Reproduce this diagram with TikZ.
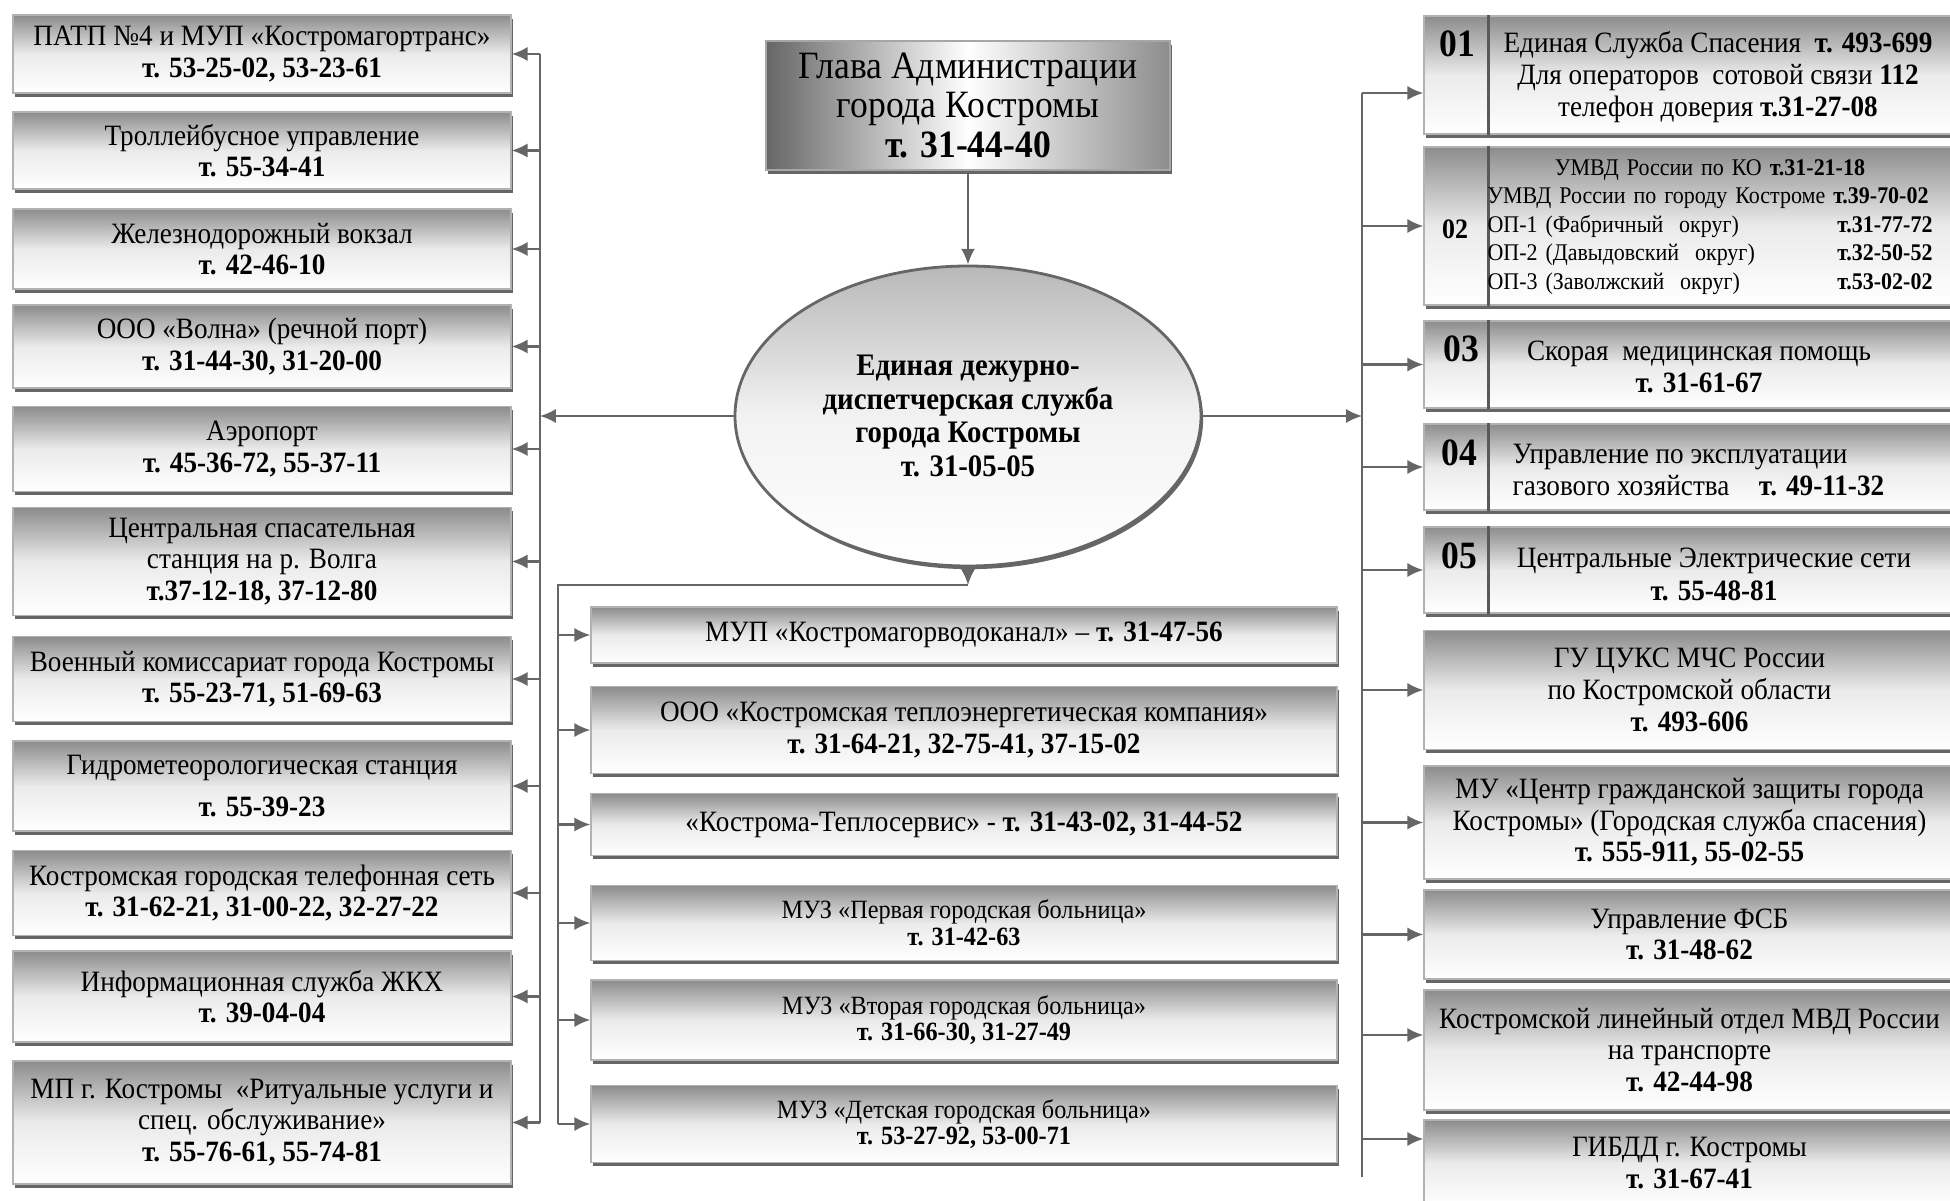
\documentclass[tikz,border=0pt]{standalone}
\usepackage{fontspec}
\setmainfont{Liberation Serif}[FakeStretch=0.92]
\usetikzlibrary{shadows,arrows.meta,shapes.geometric}

\begin{document}
\begin{tikzpicture}[x={(1cm,0cm)}, y={(0cm,1cm)},
  >={Latex[length=4.5pt,width=4pt]},
  link/.style={draw=black!60, line width=0.6pt},
  box/.style={draw=black!30, rectangle, align=center, inner sep=1pt,
    top color=black!45, bottom color=white, middle color=black!8,
    drop shadow={shadow xshift=0.7pt, shadow yshift=-1pt, fill=black!60, opacity=1},
    font=\fontsize{8.4}{9}\selectfont},
  leftbox/.style={box, minimum width=4.98cm},
  midbox/.style={box, minimum width=7.46cm},
  rightbox/.style={box, minimum width=5.31cm},
  headbox/.style={draw=black!35, rectangle, align=center,
    left color=black!60, right color=black!45, middle color=white,
    drop shadow={shadow xshift=0.7pt, shadow yshift=-1pt, fill=black!60, opacity=1},
    minimum width=4.04cm, minimum height=1.29cm,
    font=\fontsize{11}{11.2}\selectfont},
  hub/.style={ellipse, draw=black!60, line width=0.8pt, align=center, inner sep=0pt,
    top color=black!28, bottom color=white, middle color=black!5,
    drop shadow={shadow xshift=0.6pt, shadow yshift=-0.9pt, fill=black!60, opacity=1},
    minimum width=4.66cm, minimum height=3.0cm,
    font=\fontsize{8.9}{9.6}\selectfont\bfseries},
  rtext/.style={align=center, inner sep=0pt, font=\fontsize{8.4}{9.2}\selectfont},
  tinytext/.style={font=\fontsize{7.5}{7.6}\selectfont},
  numtext/.style={inner sep=0pt, font=\fontsize{11}{12}\selectfont\bfseries},
  divider/.style={draw=black!65, line width=0.9pt}]

  \useasboundingbox (0,0) rectangle (19.5,-12.01);

  % Nodes
  \node[headbox] (Head) at (9.68,-1.055) {Глава Администрации\\города Костромы\\\textbf{т. 31-44-40}};
  \node[hub] (Centre) at (9.68,-4.16) {Единая дежурно-\\диспетчерская служба\\города Костромы\\т. 31-05-05};

  \node[leftbox,minimum height=0.78cm] (L1) at (2.62,-0.54) {ПАТП №4 и МУП «Костромагортранс»\\\textbf{т. 53-25-02, 53-23-61}};
  \node[leftbox,minimum height=0.77cm] (L2) at (2.62,-1.505) {Троллейбусное управление\\\textbf{т. 55-34-41}};
  \node[leftbox,minimum height=0.80cm] (L3) at (2.62,-2.49) {Железнодорожный вокзал\\\textbf{т. 42-46-10}};
  \node[leftbox,minimum height=0.83cm] (L4) at (2.62,-3.465) {ООО «Волна» (речной порт)\\\textbf{т. 31-44-30, 31-20-00}};
  \node[leftbox,minimum height=0.85cm] (L5) at (2.62,-4.49) {Аэропорт\\\textbf{т. 45-36-72, 55-37-11}};
  \node[leftbox,minimum height=1.08cm] (L6) at (2.62,-5.615) {Центральная спасательная\\станция на р. Волга\\\textbf{т.37-12-18, 37-12-80}};
  \node[leftbox,minimum height=0.85cm] (L7) at (2.62,-6.79) {Военный комиссариат города Костромы\\\textbf{т. 55-23-71, 51-69-63}};
  \node[leftbox,minimum height=0.90cm] (L8) at (2.62,-7.86) {Гидрометеорологическая станция\\[3pt]\textbf{т. 55-39-23}};
  \node[leftbox,minimum height=0.85cm] (L9) at (2.62,-8.93) {Костромская городская телефонная сеть\\\textbf{т. 31-62-21, 31-00-22, 32-27-22}};
  \node[leftbox,minimum height=0.91cm] (L10) at (2.62,-9.965) {Информационная служба ЖКХ\\\textbf{т. 39-04-04}};
  \node[leftbox,minimum height=1.23cm] (L11) at (2.62,-11.225) {МП г. Костромы\ \ «Ритуальные услуги и\\спец. обслуживание»\\\textbf{т. 55-76-61, 55-74-81}};

  \node[midbox,minimum height=0.56cm] (M1) at (9.64,-6.35) {МУП «Костромагорводоканал» – \textbf{т. 31-47-56}};
  \node[midbox,minimum height=0.87cm] (M2) at (9.64,-7.30) {ООО «Костромская теплоэнергетическая компания»\\\textbf{т. 31-64-21, 32-75-41, 37-15-02}};
  \node[midbox,minimum height=0.62cm] (M3) at (9.64,-8.245) {«Кострома-Теплосервис» - \textbf{т. 31-43-02, 31-44-52}};
  \node[midbox,tinytext,minimum height=0.75cm] (M4) at (9.64,-9.23) {МУЗ «Первая городская больница»\\\textbf{т. 31-42-63}};
  \node[midbox,tinytext,minimum height=0.80cm] (M5) at (9.64,-10.20) {МУЗ «Вторая городская больница»\\\textbf{т. 31-66-30, 31-27-49}};
  \node[midbox,tinytext,minimum height=0.77cm] (M6) at (9.64,-11.24) {МУЗ «Детская городская больница»\\\textbf{т. 53-27-92, 53-00-71}};

  \node[rightbox,minimum height=1.18cm] (R1) at (16.895,-0.75) {};
  \node[rightbox,minimum height=1.58cm] (R2) at (16.895,-2.26) {};
  \node[rightbox,minimum height=0.87cm] (R3) at (16.895,-3.645) {};
  \node[rightbox,minimum height=0.86cm] (R4) at (16.895,-4.67) {};
  \node[rightbox,minimum height=0.86cm] (R5) at (16.895,-5.70) {};
  \node[rightbox,minimum height=1.19cm] (R6) at (16.895,-6.90) {ГУ ЦУКС МЧС России\\по Костромской области\\\textbf{т. 493-606}};
  \node[rightbox,minimum height=1.13cm] (R7) at (16.895,-8.225) {МУ «Центр гражданской защиты города\\Костромы» (Городская служба спасения)\\\textbf{т. 555-911, 55-02-55}};
  \node[rightbox,minimum height=0.89cm] (R8) at (16.895,-9.345) {Управление ФСБ\\\textbf{т. 31-48-62}};
  \node[rightbox,minimum height=1.20cm] (R9) at (16.895,-10.50) {Костромской линейный отдел МВД России\\на транспорте\\\textbf{т. 42-44-98}};
  \node[rightbox,minimum height=0.86cm] (R10) at (16.895,-11.63) {ГИБДД г. Костромы\\\textbf{т. 31-67-41}};

  % Number column
  \draw[divider] ([xshift=0.65cm]R1.north west) -- ([xshift=0.65cm]R1.south west);
  \draw[divider] ([xshift=0.65cm]R2.north west) -- ([xshift=0.65cm]R2.south west);
  \draw[divider] ([xshift=0.65cm]R3.north west) -- ([xshift=0.65cm]R3.south west);
  \draw[divider] ([xshift=0.65cm]R4.north west) -- ([xshift=0.65cm]R4.south west);
  \draw[divider] ([xshift=0.65cm]R5.north west) -- ([xshift=0.65cm]R5.south west);

  \node[numtext] (Num1) at (14.57,-0.44) {01};
  \node[numtext,font=\fontsize{8}{9}\selectfont\bfseries] (Num2) at (14.55,-2.29) {02};
  \node[numtext] (Num3) at (14.61,-3.49) {03};
  \node[numtext] (Num4) at (14.59,-4.53) {04};
  \node[numtext] (Num5) at (14.59,-5.56) {05};

  \node[rtext] (Text1) at (17.18,-0.77) {Единая Служба Спасения\ \ \textbf{т. 493-699}\\Для операторов\ \ сотовой связи \textbf{112}\\телефон доверия \textbf{т.31-27-08}};
  \node[rtext,font=\fontsize{6.8}{8.1}\selectfont,text width=4.45cm,align=left] (Text2) at (17.10,-2.27)
    {\makebox[\linewidth]{УМВД России по КО \textbf{т.31-21-18}}\\
     УМВД России по городу Костроме \textbf{т.39-70-02}\\
     ОП-1 (Фабричный\ \ округ)\hfill\textbf{т.31-77-72}\hspace*{0.2cm}\\
     ОП-2 (Давыдовский\ \ округ)\hfill\textbf{т.32-50-52}\\
     ОП-3 (Заволжский\ \ округ)\hfill\textbf{т.53-02-02}};
  \node[rtext] (Text3) at (16.99,-3.67) {Скорая\ \ медицинская помощь\\\textbf{т. 31-61-67}};
  \node[rtext,anchor=west,align=left] (Text4) at (15.12,-4.70) {Управление по эксплуатации\\газового хозяйства\quad\textbf{т. 49-11-32}};
  \node[rtext] (Text5) at (17.14,-5.745) {Центральные Электрические сети\\\textbf{т. 55-48-81}};

  % Buses
  \coordinate (LeftBus) at (5.40,0);
  \coordinate (MidBus) at (5.58,-5.85);
  \coordinate (RightBus) at (13.62,0);

  % Edges
  \draw[link,->] (Head.south) -- (Centre.north);
  \draw[link,->] (Centre.west) -- (LeftBus |- Centre.west);
  \draw[link,->] (Centre.east) -- (RightBus |- Centre.east);
  \draw[link,->] (Centre.south) -- (Centre.south |- MidBus);
  \draw[link] (Centre.south |- MidBus) -- (MidBus) -- (MidBus |- M6.west);

  \draw[link] (LeftBus |- L1.east) -- (LeftBus |- L11.east);
  \draw[link,<-] (L1.east) -- (LeftBus |- L1.east);
  \draw[link,<-] (L2.east) -- (LeftBus |- L2.east);
  \draw[link,<-] (L3.east) -- (LeftBus |- L3.east);
  \draw[link,<-] (L4.east) -- (LeftBus |- L4.east);
  \draw[link,<-] (L5.east) -- (LeftBus |- L5.east);
  \draw[link,<-] (L6.east) -- (LeftBus |- L6.east);
  \draw[link,<-] (L7.east) -- (LeftBus |- L7.east);
  \draw[link,<-] (L8.east) -- (LeftBus |- L8.east);
  \draw[link,<-] (L9.east) -- (LeftBus |- L9.east);
  \draw[link,<-] (L10.east) -- (LeftBus |- L10.east);
  \draw[link,<-] (L11.east) -- (LeftBus |- L11.east);

  \draw[link,->] (MidBus |- M1.west) -- (M1.west);
  \draw[link,->] (MidBus |- M2.west) -- (M2.west);
  \draw[link,->] (MidBus |- M3.west) -- (M3.west);
  \draw[link,->] (MidBus |- M4.west) -- (M4.west);
  \draw[link,->] (MidBus |- M5.west) -- (M5.west);
  \draw[link,->] (MidBus |- M6.west) -- (M6.west);

  \draw[link] ([yshift=-0.18cm]RightBus |- R1.west) -- ([yshift=0.30cm]RightBus |- R10.south);
  \draw[link,->] ([yshift=-0.18cm]RightBus |- R1.west) -- ([yshift=-0.18cm]R1.west);
  \draw[link,->] (RightBus |- R2.west) -- (R2.west);
  \draw[link,->] (RightBus |- R3.west) -- (R3.west);
  \draw[link,->] (RightBus |- R4.west) -- (R4.west);
  \draw[link,->] (RightBus |- R5.west) -- (R5.west);
  \draw[link,->] (RightBus |- R6.west) -- (R6.west);
  \draw[link,->] (RightBus |- R7.west) -- (R7.west);
  \draw[link,->] (RightBus |- R8.west) -- (R8.west);
  \draw[link,->] ([yshift=0.15cm]RightBus |- R9.west) -- ([yshift=0.15cm]R9.west);
  \draw[link,->] ([yshift=0.24cm]RightBus |- R10.west) -- ([yshift=0.24cm]R10.west);
\end{tikzpicture}
\end{document}
